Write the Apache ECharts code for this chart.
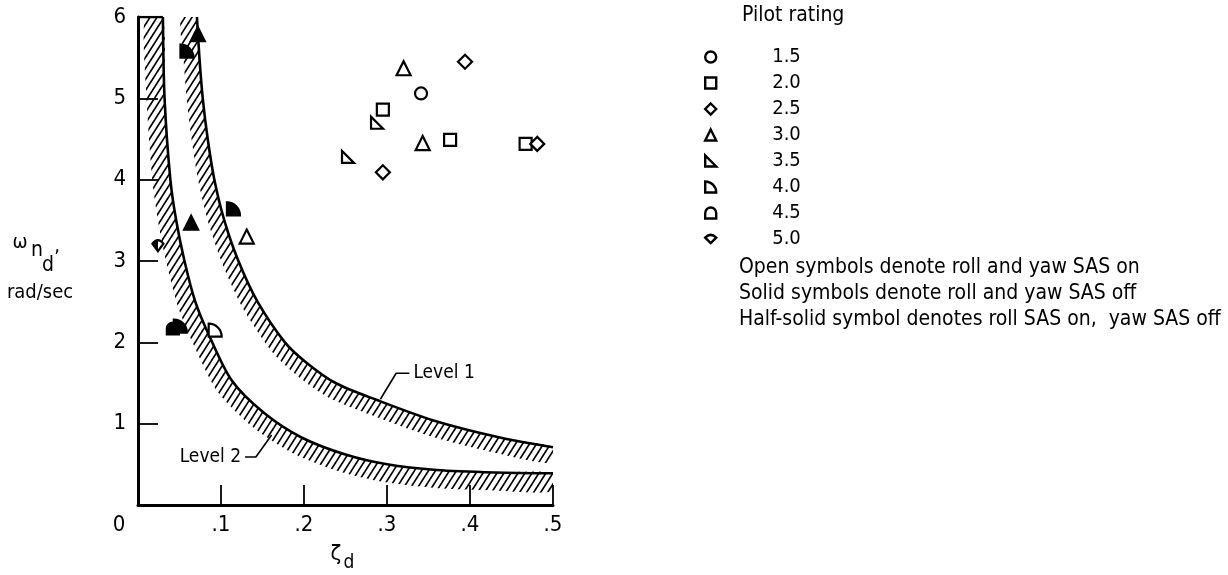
<!DOCTYPE html>
<html>
<head>
<meta charset="utf-8">
<script src="https://cdn.jsdelivr.net/npm/echarts@6/dist/echarts.min.js"></script>
<style>
html,body{margin:0;padding:0;background:#fff;}
#c{width:1228px;height:575px;}
</style>
</head>
<body>
<div id="c"></div>
<script>
// ---------------- data ----------------
const xTickLabels = ['0', '.1', '.2', '.3', '.4', '.5'];
const yTickLabels = ['', '1', '2', '3', '4', '5', '6'];
const ratings = ['1.5', '2.0', '2.5', '3.0', '3.5', '4.0', '4.5', '5.0'];
// [zeta_d, omega_nd, pilot rating]
const sasOn = [
  [0.341, 5.06, '1.5'],
  [0.295, 4.86, '2.0'], [0.376, 4.49, '2.0'], [0.467, 4.44, '2.0'],
  [0.394, 5.45, '2.5'], [0.295, 4.09, '2.5'], [0.481, 4.44, '2.5'],
  [0.320, 5.37, '3.0'], [0.343, 4.45, '3.0'], [0.131, 3.30, '3.0'],
  [0.288, 4.70, '3.5'], [0.253, 4.28, '3.5'],
  [0.093, 2.15, '4.0']
];
const sasOff = [
  [0.072, 5.79, '3.0'], [0.064, 3.47, '3.0'],
  [0.059, 5.58, '4.0'], [0.115, 3.64, '4.0'], [0.051, 2.20, '4.0'],
  [0.042, 2.17, '4.5']
];
const rollOnly = [
  [0.024, 3.19, '5.0']
];
const level1 = [
  [0.071, 6.0], [0.074, 5.5], [0.078, 5.0], [0.084, 4.5], [0.092, 4.0],
  [0.104, 3.5], [0.121, 3.0], [0.144, 2.5], [0.177, 2.0], [0.203, 1.75],
  [0.238, 1.5], [0.288, 1.29], [0.356, 1.04], [0.436, 0.83], [0.500, 0.71]
];
const level2 = [
  [0.030, 6.0], [0.032, 5.0], [0.039, 4.0], [0.046, 3.5], [0.056, 3.0],
  [0.069, 2.5], [0.085, 2.1], [0.113, 1.53], [0.152, 1.13], [0.197, 0.83],
  [0.250, 0.62], [0.300, 0.50], [0.360, 0.43], [0.430, 0.40], [0.500, 0.39]
];
const level2Cap = [[0, 6.0], [0.030, 6.0]];
const leader1 = [[0.327, 1.62], [0.311, 1.62], [0.292, 1.30]];
const leader2 = [[0.129, 0.59], [0.142, 0.59], [0.161, 0.86]];

// ---------------- styles ----------------
const FONT = "'DejaVu Sans Condensed', 'DejaVu Sans', sans-serif";
const symbols = {
  '1.5': 'circle',
  '2.0': 'rect',
  '2.5': 'diamond',
  '3.0': 'triangle',
  '3.5': 'path://M0,0 L0,10 L10,10 Z',
  '4.0': 'path://M0,0 A10,10 0 0 1 10,10 L0,10 Z',
  '4.5': 'path://M0,10 L0,5 A5,5 0 0 1 10,5 L10,10 Z',
  '5.0': 'path://M0,4 Q5,-1 10,4 L5,9 Z'
};
const sizes = {'1.5': 12, '2.0': 12, '2.5': 14, '3.0': 14, '3.5': 12, '4.0': 13, '4.5': 12, '5.0': 11};
const halfFill = {type: 'linear', x: 0, y: 0, x2: 1, y2: 0, colorStops: [
  {offset: 0, color: '#000'}, {offset: 0.5, color: '#000'},
  {offset: 0.5, color: '#fff'}, {offset: 1, color: '#fff'}]};

function makeHatch() {
  const c = document.createElement('canvas');
  const w = 7, h = 11;
  c.width = w; c.height = h;
  const g = c.getContext('2d');
  g.strokeStyle = '#000';
  g.lineWidth = 1.7;
  for (let k = -1; k <= 1; k++) {
    g.beginPath();
    g.moveTo(k * w - w, 2 * h);
    g.lineTo(k * w + 2 * w, -h);
    g.stroke();
  }
  return c;
}
const hatch = {image: makeHatch(), repeat: 'repeat'};

function bandRenderer(curve, width) {
  return function (params, api) {
    const pts = curve.map(p => api.coord(p));
    const n = pts.length;
    const off = [];
    for (let i = 0; i < n; i++) {
      const a = pts[Math.max(i - 1, 0)], b = pts[Math.min(i + 1, n - 1)];
      const dx = b[0] - a[0], dy = b[1] - a[1];
      const L = Math.hypot(dx, dy) || 1;
      const nx = -dy / L, ny = dx / L;
      off.push([pts[i][0] + nx * width, pts[i][1] + ny * width]);
    }
    return {
      type: 'polygon',
      shape: {points: pts.concat(off.reverse()), smooth: 0.25},
      style: {fill: hatch, stroke: null}
    };
  };
}

// ---------------- series ----------------
const series = [];
series.push({type: 'custom', coordinateSystem: 'cartesian2d', silent: true, clip: true,
  renderItem: bandRenderer(level1, 16), data: [[0, 0]], z: 1});
series.push({type: 'custom', coordinateSystem: 'cartesian2d', silent: true, clip: true,
  renderItem: bandRenderer(level2, 18), data: [[0, 0]], z: 1});
[level1, level2, level2Cap].forEach(d => series.push({
  type: 'line', data: d, smooth: d === level2Cap ? false : 0.3, showSymbol: false, symbol: 'none',
  lineStyle: {color: '#000', width: 2.6}, silent: true, z: 2
}));
[[leader1, 'Level 1', 'right'], [leader2, 'Level 2', 'left']].forEach(([d, txt, pos]) => {
  series.push({type: 'line', data: d, showSymbol: false, symbol: 'none',
    lineStyle: {color: '#000', width: 1.6}, silent: true, z: 2});
  series.push({type: 'scatter', data: [d[0]], symbolSize: 0, silent: true, z: 3,
    itemStyle: {opacity: 1},
    label: {show: true, position: pos, distance: 4, formatter: txt, color: '#000',
      fontFamily: FONT, fontSize: 19, opacity: 1}});
});
ratings.forEach(r => {
  const data = [];
  sasOn.filter(p => p[2] === r).forEach(p => data.push({value: [p[0], p[1]]}));
  sasOff.filter(p => p[2] === r).forEach(p => data.push({value: [p[0], p[1]], itemStyle: {color: '#000'}}));
  rollOnly.filter(p => p[2] === r).forEach(p => data.push({value: [p[0], p[1]], itemStyle: {color: halfFill}}));
  series.push({
    name: r, type: 'scatter', symbol: symbols[r], symbolSize: sizes[r], data: data, z: 5,
    itemStyle: {color: '#fff', borderColor: '#000', borderWidth: 2.2, opacity: 1}
  });
});

const T = (t, l, top, size) => ({type: 'text', left: l, top: top,
  style: {text: t, font: size + 'px ' + FONT, fill: '#000'}});
const C = (t, x, y, font) => ({type: 'text', x: x, y: y,
  style: {text: t, font: font, fill: '#000', align: 'center', verticalAlign: 'middle'}});

const chart = echarts.init(document.getElementById('c'), null, {renderer: 'canvas'});
chart.setOption({
  animation: false,
  backgroundColor: '#fff',
  grid: {left: 138, right: 675, top: 17, bottom: 70, containLabel: false},
  xAxis: {
    type: 'value', min: 0, max: 0.5, interval: 0.1,
    axisLine: {lineStyle: {color: '#000', width: 3}},
    axisTick: {inside: true, length: 20, lineStyle: {color: '#000', width: 1.8}},
    splitLine: {show: false},
    axisLabel: {color: '#000', fontFamily: FONT, fontSize: 22, margin: 9,
      formatter: v => { const i = Math.round(v / 0.1); return i === 0 ? '{z|' + xTickLabels[0] + '}' : xTickLabels[i]; },
      rich: {z: {fontFamily: FONT, fontSize: 22, color: '#000', padding: [0, 38, 0, 0]}}}
  },
  yAxis: {
    type: 'value', min: 0, max: 6, interval: 1,
    axisLine: {lineStyle: {color: '#000', width: 3}},
    axisTick: {inside: true, length: 20, lineStyle: {color: '#000', width: 1.8}},
    splitLine: {show: false},
    axisLabel: {color: '#000', fontFamily: FONT, fontSize: 22, margin: 12,
      formatter: v => yTickLabels[Math.round(v)]}
  },
  legend: {
    data: ratings, orient: 'vertical', left: 699, top: 42, itemWidth: 11, itemHeight: 11,
    itemGap: 6, selectedMode: false,
    itemStyle: {color: '#fff', borderColor: '#000', borderWidth: 2.4},
    formatter: name => '{g|}' + name,
    textStyle: {color: '#000', fontFamily: FONT, fontSize: 20, lineHeight: 20,
      rich: {g: {width: 51, lineHeight: 20}}}
  },
  graphic: [
    T('Pilot rating', 742, 5, 21),
    T('Open symbols denote roll and yaw SAS on', 739, 257, 21),
    T('Solid symbols denote roll and yaw SAS off', 739, 283, 21),
    T('Half-solid symbol denotes roll SAS on,  yaw SAS off', 739, 309, 21),
    C('ω', 20, 243, '20px ' + FONT),
    C('n', 37, 251, '21px ' + FONT),
    C('d', 48, 266, '21px ' + FONT),
    C(',', 57, 247, '20px ' + FONT),
    C('rad/sec', 40, 293, '20px ' + FONT),
    C('ζ', 336, 554, '22px ' + FONT),
    C('d', 349, 563, '19px ' + FONT)
  ],
  series: series
});
</script>
</body>
</html>
